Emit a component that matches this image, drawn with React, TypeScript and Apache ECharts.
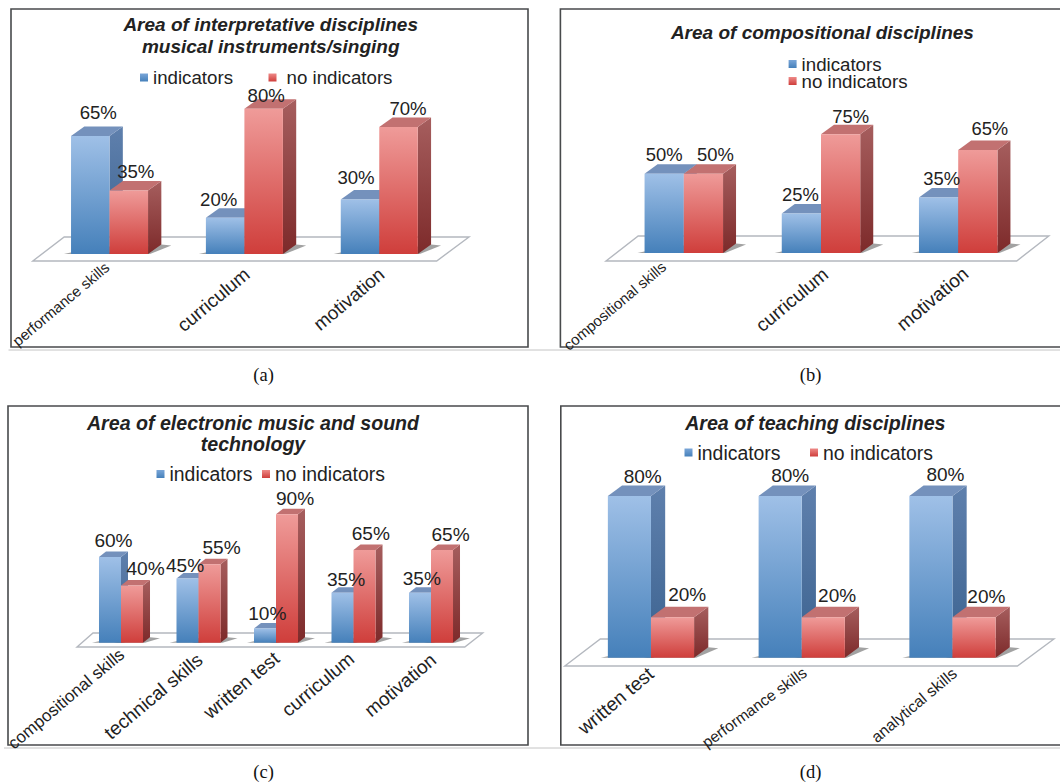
import React, { useEffect, useRef } from "react";
import * as echarts from "echarts";

const FONT = '"Liberation Sans", Arial, sans-serif';
const INK = "#222222";
const S1 = "indicators";
const S2 = "no indicators";

// ---- data ----
const catsA = ["performance skills", "curriculum", "motivation"];
const indA = [65, 20, 30];
const noA = [35, 80, 70];
const catsB = ["compositional skills", "curriculum", "motivation"];
const indB = [50, 25, 35];
const noB = [50, 75, 65];
const catsC = ["compositional skills", "technical skills", "written test", "curriculum", "motivation"];
const indC = [60, 45, 10, 35, 35];
const noC = [40, 55, 90, 65, 65];
const catsD = ["written test", "performance skills", "analytical skills"];
const indD = [80, 80, 80];
const noD = [20, 20, 20];

// ---- layout (pixels) ----
type P = {
  cats: string[]; ind: number[]; no: number[]; title: string; titleX: number; titleY: number; titleSize: number;
  frame: number[]; floor: number[][]; grid: number[]; barFrac: number; depth: number[];
  catSizes: number[]; catEnds: number[][]; catRots: number[];
  legend: number[][]; legendGapRed: number; legendSize: number; labelSize: number;
  nudge1: number[][]; nudge2: number[][];
};
const panels: P[] = [
  {
    cats: catsA, ind: indA, no: noA, title: "Area of interpretative disciplines\nmusical instruments/singing",
    titleX: 270.7, titleY: 14, titleSize: 19,
    frame: [11, 9, 517, 338], floor: [[32.8, 261], [436.7, 261], [469, 237], [64.2, 237]],
    grid: [42.1, 72.5, 404.6, 181.5], barFrac: 0.2855, depth: [13.3, 9.5],
    catSizes: [15, 19, 18.8], catEnds: [[0.5, 7.5], [5.5, 14], [5.4, 14]], catRots: [40, 40, 40],
    legend: [[140, 68], [268.5, 68]], legendGapRed: 5, legendSize: 18.7, labelSize: 18.6,
    nudge1: [[8, -24], [-6.5, -18], [-4, -22]], nudge2: [[7, -19], [2.5, -13], [9.5, -18]],
  },
  {
    cats: catsB, ind: indB, no: noB, title: "Area of compositional disciplines",
    titleX: 822.4, titleY: 22, titleSize: 19,
    frame: [560.4, 9, 520, 338], floor: [[606, 261], [1016.7, 261], [1048.8, 236], [638.2, 236]],
    grid: [615.2, 94.5, 411.6, 158.5], barFrac: 0.286, depth: [13, 9.5],
    catSizes: [15, 19, 19], catEnds: [[-17, 8], [7.5, 15], [10.5, 14.5]], catRots: [40, 40, 40],
    legend: [[788.6, 54.5], [788.6, 71.5]], legendGapRed: 0, legendSize: 18.7, labelSize: 18.4,
    nudge1: [[0, -19], [-1, -19], [3, -19]], nudge2: [[12, -19], [10, -18], [12, -21]],
  },
  {
    cats: catsC, ind: indC, no: noC, title: "Area of electronic music and sound\ntechnology",
    titleX: 253, titleY: 412, titleSize: 19.6,
    frame: [8, 406, 520, 339], floor: [[77, 647], [464.8, 647], [482.7, 633], [93, 633]],
    grid: [82.25, 500, 387.5, 142.7], barFrac: 0.284, depth: [7, 5.5],
    catSizes: [17, 19, 19, 19, 19], catEnds: [[4, 6], [4.4, 11], [3.5, 9.5], [1, 10], [5.5, 11]], catRots: [40, 40, 40, 40, 40],
    legend: [[156.5, 464.5], [262, 464.5]], legendGapRed: 0, legendSize: 19.4, labelSize: 19.1,
    nudge1: [[3.5, -17], [-2.4, -12.5], [2.3, -15], [3.6, -13.5], [1.8, -14]],
    nudge2: [[13.5, -17], [12, -16.5], [8, -15.6], [6.3, -16], [8.6, -15]],
  },
  {
    cats: catsD, ind: indD, no: noD, title: "Area of teaching disciplines",
    titleX: 815.3, titleY: 412, titleSize: 19.6,
    frame: [560.8, 406, 520, 339], floor: [[564.8, 666], [1017.4, 666], [1053.9, 639], [600.3, 639]],
    grid: [575.6, 455.7, 452.25, 202], barFrac: 0.286, depth: [14.2, 10.5],
    catSizes: [19, 15.5, 16], catEnds: [[3, 10], [6, 9.5], [5, 10]], catRots: [40, 36, 40],
    legend: [[684.5, 443], [810, 443]], legendGapRed: 0, legendSize: 19.4, labelSize: 19,
    nudge1: [[13.3, -20], [10, -21], [14.5, -22]], nudge2: [[14.7, -23], [13.8, -22], [12.3, -21]],
  },
];

const captions = [
  { t: "(a)", x: 263.6, y: 375 }, { t: "(b)", x: 810.5, y: 375 },
  { t: "(c)", x: 263.6, y: 772 }, { t: "(d)", x: 810.5, y: 772 },
];
const rules = [[8.5, 350], [4, 748]];
const END_TO_MID = [-3, 3.5];

const grad = (top: string, bottom: string) =>
  new echarts.graphic.LinearGradient(0, 0, 0, 1, [
    { offset: 0, color: top },
    { offset: 1, color: bottom },
  ]);

const looks = [
  { front: ["#9fc0e7", "#4580ba"], side: ["#5f80ad", "#3b628f"], top: "#7491bc", swatch: ["#7aa6d8", "#4580ba"] },
  { front: ["#ef9b99", "#cf3e3b"], side: ["#a65e5e", "#7d2a2a"], top: "#c27171", swatch: ["#ee8a88", "#cf3e3b"] },
];

function makeSeries(p: P, idx: number, which: number, values: number[]) {
  const look = looks[which];
  const lift = which * 4;
  return {
    type: "custom",
    name: which === 0 ? S1 : S2,
    xAxisIndex: idx,
    yAxisIndex: idx,
    z: 3,
    silent: true,
    data: values.map((v, i) => [i, v]),
    encode: { x: 0, y: 1 },
    renderItem: (_: any, api: any) => {
      const i = api.value(0);
      const v = api.value(1);
      const band = api.size([1, 0])[0];
      const w = band * p.barFrac;
      const c = api.coord([i, v]);
      const base = api.coord([i, 0]);
      const x0 = c[0] + (which - 1) * w;
      const x1 = x0 + w;
      const yT = c[1];
      const yB = base[1];
      const [dx, dy] = p.depth;
      const n = (which === 0 ? p.nudge1 : p.nudge2)[i];
      const children: any[] = [
        {
          type: "polygon",
          shape: { points: [[x0 - 7, yB], [x1 + 2, yB], [x1 + dx + 10, yB - dy + 1], [x1 + dx, yB - dy], [x0 + 2, yB - 2]] },
          style: { fill: "rgba(70,70,70,0.5)" },
          z2: 0,
        },
        {
          type: "polygon",
          shape: { points: [[x1, yT], [x1 + dx, yT - dy], [x1 + dx, yB - dy], [x1, yB]] },
          style: { fill: grad(look.side[0], look.side[1]) },
          z2: 1 + lift,
        },
        {
          type: "polygon",
          shape: { points: [[x0, yT], [x0 + dx, yT - dy], [x1 + dx, yT - dy], [x1, yT]] },
          style: { fill: look.top },
          z2: 1 + lift,
        },
        {
          type: "rect",
          shape: { x: x0, y: yT, width: w, height: yB - yT },
          style: { fill: grad(look.front[0], look.front[1]) },
          z2: 2 + lift,
        },
        {
          type: "text",
          x: (x0 + x1) / 2 + n[0],
          y: yT + n[1],
          style: { text: v + "%", fill: INK, font: `${p.labelSize}px ${FONT}`, align: "center", verticalAlign: "middle" },
          z2: 100,
        },
      ];
      if (which === 0) {
        children.push({
          type: "text",
          x: c[0] + p.catEnds[i][0] + END_TO_MID[0],
          y: yB + p.catEnds[i][1] + END_TO_MID[1],
          rotation: (p.catRots[i] * Math.PI) / 180,
          style: {
            text: p.cats[i], fill: INK, font: `${p.catSizes[i]}px ${FONT}`, align: "right", verticalAlign: "middle",
          },
          z2: 100,
        });
      }
      return { type: "group", children };
    },
  };
}

function buildOption() {
  const grid: any[] = [];
  const xAxis: any[] = [];
  const yAxis: any[] = [];
  const series: any[] = [];
  const title: any[] = [];
  const legend: any[] = [];
  const graphic: any[] = [];

  panels.forEach((p, idx) => {
    grid.push({ left: p.grid[0], top: p.grid[1], width: p.grid[2], height: p.grid[3] });
    xAxis.push({
      type: "category",
      gridIndex: idx,
      data: p.cats,
      axisLine: { show: false },
      axisTick: { show: false },
      splitLine: { show: false },
      axisLabel: { show: false },
    });
    yAxis.push({ type: "value", gridIndex: idx, min: 0, max: 100, show: false });
    series.push(makeSeries(p, idx, 0, p.ind));
    series.push(makeSeries(p, idx, 1, p.no));
    title.push({
      text: p.title,
      left: p.titleX,
      top: p.titleY,
      textAlign: "center",
      padding: 0,
      textStyle: {
        fontFamily: FONT, fontSize: p.titleSize, fontWeight: "bold", fontStyle: "italic", color: INK, lineHeight: 21.5,
      },
    });
    [S1, S2].forEach((name, k) => {
      legend.push({
        left: p.legend[k][0],
        top: p.legend[k][1],
        padding: 0,
        selectedMode: false,
        itemWidth: 8,
        itemHeight: 8,
        icon: "rect",
        data: [{
          name,
          itemStyle: { color: grad(looks[k].swatch[0], looks[k].swatch[1]) },
          textStyle: { padding: [0, 0, 0, k === 1 ? p.legendGapRed : 0] },
        }],
        textStyle: { fontFamily: FONT, fontSize: p.legendSize, color: INK },
      });
    });
    graphic.push({
      type: "rect",
      shape: { x: p.frame[0], y: p.frame[1], width: p.frame[2], height: p.frame[3] },
      style: { fill: "#ffffff", stroke: "#484a4c", lineWidth: 1.6 },
      z: 0,
    });
    graphic.push({
      type: "polygon",
      shape: { points: p.floor },
      style: { fill: "#ffffff", stroke: "#b4b8bf", lineWidth: 1.4 },
      z: 1,
    });
  });

  rules.forEach(([x, y]) => {
    graphic.push({
      type: "line",
      shape: { x1: x, y1: y, x2: 1060, y2: y },
      style: { stroke: "#c4c4c4", lineWidth: 1 },
      z: 1,
    });
  });
  captions.forEach((c) => {
    graphic.push({
      type: "text",
      x: c.x,
      y: c.y,
      style: { text: c.t, fill: "#111111", font: '18.5px "Liberation Serif", serif', align: "center", verticalAlign: "middle" },
      z: 1,
    });
  });

  return { animation: false, backgroundColor: "#ffffff", grid, xAxis, yAxis, series, title, legend, graphic, tooltip: { show: false } };
}

export default function App() {
  const ref = useRef<HTMLDivElement>(null);
  useEffect(() => {
    const chart = echarts.init(ref.current!, null, { renderer: "svg" });
    chart.setOption(buildOption());
    return () => chart.dispose();
  }, []);
  return <div ref={ref} style={{ position: "absolute", left: 0, top: 0, width: 1060, height: 784 }} />;
}
